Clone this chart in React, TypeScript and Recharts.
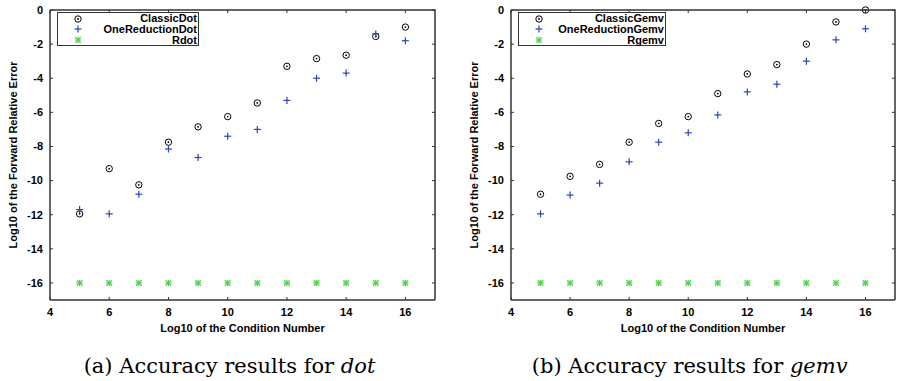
import React from 'react';
import { ScatterChart, Scatter, XAxis, YAxis } from 'recharts';

const conditionNumbers = [5, 6, 7, 8, 9, 10, 11, 12, 13, 14, 15, 16];

const classicDot = [-11.95, -9.3, -10.25, -7.75, -6.85, -6.25, -5.45, -3.3, -2.85, -2.65, -1.55, -1.0];
const oneReductionDot = [-11.7, -11.95, -10.8, -8.15, -8.65, -7.4, -7.0, -5.3, -4.0, -3.7, -1.4, -1.8];
const rDot = [-16, -16, -16, -16, -16, -16, -16, -16, -16, -16, -16, -16];

const classicGemv = [-10.8, -9.75, -9.05, -7.75, -6.65, -6.25, -4.9, -3.75, -3.2, -2.0, -0.7, 0.0];
const oneReductionGemv = [-11.95, -10.85, -10.15, -8.9, -7.75, -7.2, -6.15, -4.8, -4.35, -3.0, -1.75, -1.1];
const rGemv = [-16, -16, -16, -16, -16, -16, -16, -16, -16, -16, -16, -16];

const xDomain = [4, 17];
const yDomain = [-17, 0];
const xTicks = [4, 6, 8, 10, 12, 14, 16];
const yTicks = [0, -2, -4, -6, -8, -10, -12, -14, -16];

const FONT = '"Liberation Sans", Arial, Helvetica, sans-serif';
const FRAME = '#333';
const BLUE = '#2b44b8';
const GREEN = '#4fcf4f';

const CHART_W = 449;
const CHART_H = 340;
const TOP = 10;
const Y_AXIS_W = 50;
const X_AXIS_H = 40;

const toPoints = (ys: number[]) => conditionNumbers.map((x, i) => ({ x, y: ys[i] }));

const CircleDot = ({ cx, cy }: any) => (
  <g>
    <circle cx={cx} cy={cy} r={3.2} fill="none" stroke="#000" strokeWidth={1} />
    <circle cx={cx} cy={cy} r={0.9} fill="#000" />
  </g>
);

const Plus = ({ cx, cy }: any) => (
  <g stroke={BLUE} strokeWidth={1.2}>
    <line x1={cx - 3.5} y1={cy} x2={cx + 3.5} y2={cy} />
    <line x1={cx} y1={cy - 3.5} x2={cx} y2={cy + 3.5} />
  </g>
);

const Star = ({ cx, cy }: any) => (
  <g stroke={GREEN} strokeWidth={1.2}>
    <line x1={cx - 3.2} y1={cy} x2={cx + 3.2} y2={cy} />
    <line x1={cx} y1={cy - 3.2} x2={cx} y2={cy + 3.2} />
    <line x1={cx - 2.8} y1={cy - 2.8} x2={cx + 2.8} y2={cy + 2.8} />
    <line x1={cx - 2.8} y1={cy + 2.8} x2={cx + 2.8} y2={cy - 2.8} />
  </g>
);

const shapes = [CircleDot, Plus, Star];

const YLabel = ({ viewBox }: any) => (
  <text
    x={viewBox.x + 12.5}
    y={viewBox.y + viewBox.height / 2}
    transform={`rotate(-90 ${viewBox.x + 12.5} ${viewBox.y + viewBox.height / 2})`}
    textAnchor="middle"
    dominantBaseline="central"
    fontSize={11}
    fontWeight="bold"
    fill="#000"
  >
    Log10 of the Forward Relative Error
  </text>
);

const XLabel = ({ viewBox }: any) => (
  <text
    x={viewBox.x + viewBox.width / 2}
    y={viewBox.y + 31.5}
    textAnchor="middle"
    fontSize={11}
    fontWeight="bold"
    fill="#000"
  >
    Log10 of the Condition Number
  </text>
);

// top and right border with mirrored ticks, like gnuplot's box
const MirrorFrame = ({ left, right }: { left: number; right: number }) => {
  const bottom = CHART_H - X_AXIS_H;
  const sx = (v: number) => left + ((v - xDomain[0]) / (xDomain[1] - xDomain[0])) * (right - left);
  const sy = (v: number) => bottom - ((v - yDomain[0]) / (yDomain[1] - yDomain[0])) * (bottom - TOP);
  return (
    <svg
      width={CHART_W}
      height={CHART_H}
      style={{ position: 'absolute', left: 0, top: 0, pointerEvents: 'none' }}
    >
      <polyline
        points={`${left},${TOP} ${right},${TOP} ${right},${bottom}`}
        fill="none"
        stroke={FRAME}
        strokeWidth={1.5}
      />
      {xTicks.map((t) => (
        <line key={`x${t}`} x1={sx(t)} y1={TOP} x2={sx(t)} y2={TOP + 3} stroke={FRAME} />
      ))}
      {yTicks.map((t) => (
        <line key={`y${t}`} x1={right} y1={sy(t)} x2={right - 3} y2={sy(t)} stroke={FRAME} />
      ))}
    </svg>
  );
};

type PanelProps = {
  names: string[];
  series: number[][];
  marginLeft: number;
  marginRight: number;
  legendWidth: number;
};

const Panel = ({ names, series, marginLeft, marginRight, legendWidth }: PanelProps) => (
  <div style={{ position: 'relative', width: CHART_W, height: CHART_H }}>
    <ScatterChart
      width={CHART_W}
      height={CHART_H}
      margin={{ top: TOP, right: marginRight, left: marginLeft, bottom: 0 }}
      style={{ fontFamily: FONT }}
    >
      <XAxis
        type="number"
        dataKey="x"
        domain={xDomain}
        ticks={xTicks}
        interval={0}
        height={X_AXIS_H}
        axisLine={{ stroke: FRAME, strokeWidth: 1.5 }}
        tickLine={{ stroke: FRAME }}
        tickSize={-3}
        tickMargin={11}
        tick={{ fontSize: 11, fontWeight: 'bold', fill: '#000' }}
        label={<XLabel />}
      />
      <YAxis
        type="number"
        dataKey="y"
        domain={yDomain}
        ticks={yTicks}
        interval={0}
        width={Y_AXIS_W}
        axisLine={{ stroke: FRAME, strokeWidth: 1.5 }}
        tickLine={{ stroke: FRAME }}
        tickSize={-3}
        tickMargin={10}
        tick={{ fontSize: 11, fontWeight: 'bold', fill: '#000' }}
        label={<YLabel />}
      />
      {series.map((ys, i) => (
        <Scatter
          key={names[i]}
          name={names[i]}
          data={toPoints(ys)}
          shape={shapes[i]}
          isAnimationActive={false}
        />
      ))}
    </ScatterChart>
    <MirrorFrame left={marginLeft + Y_AXIS_W} right={CHART_W - marginRight} />
    <div
      style={{
        position: 'absolute',
        top: 12,
        left: marginLeft + 57,
        width: legendWidth,
        height: 34,
        border: `1.5px solid ${FRAME}`,
        boxSizing: 'border-box',
        fontFamily: FONT,
        fontSize: 11,
        fontWeight: 'bold',
        background: '#fff',
      }}
    >
      {names.map((name, i) => {
        const Shape = shapes[i];
        return (
          <div key={name} style={{ position: 'relative', height: 10.8, lineHeight: '11px', textAlign: 'right', paddingRight: 1 }}>
            <svg width={10} height={10} style={{ position: 'absolute', left: 15, top: 0.5 }}>
              <Shape cx={5} cy={5} />
            </svg>
            {name}
          </div>
        );
      })}
    </div>
  </div>
);

const captionStyle: React.CSSProperties = {
  position: 'absolute',
  top: 354,
  fontFamily: '"DejaVu Serif", "Liberation Serif", serif',
  fontSize: 21,
  whiteSpace: 'nowrap',
  transform: 'translateX(-50%)',
  color: '#000',
};

export default function App() {
  return (
    <div style={{ position: 'absolute', left: 0, top: 0, width: 898, height: 381, background: '#fff' }}>
      <div style={{ position: 'absolute', left: 0, top: 0 }}>
        <Panel
          names={['ClassicDot', 'OneReductionDot', 'Rdot']}
          series={[classicDot, oneReductionDot, rDot]}
          marginLeft={0}
          marginRight={14}
          legendWidth={142}
        />
      </div>
      <div style={{ position: 'absolute', left: 449, top: 0 }}>
        <Panel
          names={['ClassicGemv', 'OneReductionGemv', 'Rgemv']}
          series={[classicGemv, oneReductionGemv, rGemv]}
          marginLeft={12}
          marginRight={3}
          legendWidth={148}
        />
      </div>
      <div style={{ ...captionStyle, left: 229.5 }}>
        (a) Accuracy results for <i>dot</i>
      </div>
      <div style={{ ...captionStyle, left: 689.7 }}>
        (b) Accuracy results for <i>gemv</i>
      </div>
    </div>
  );
}
